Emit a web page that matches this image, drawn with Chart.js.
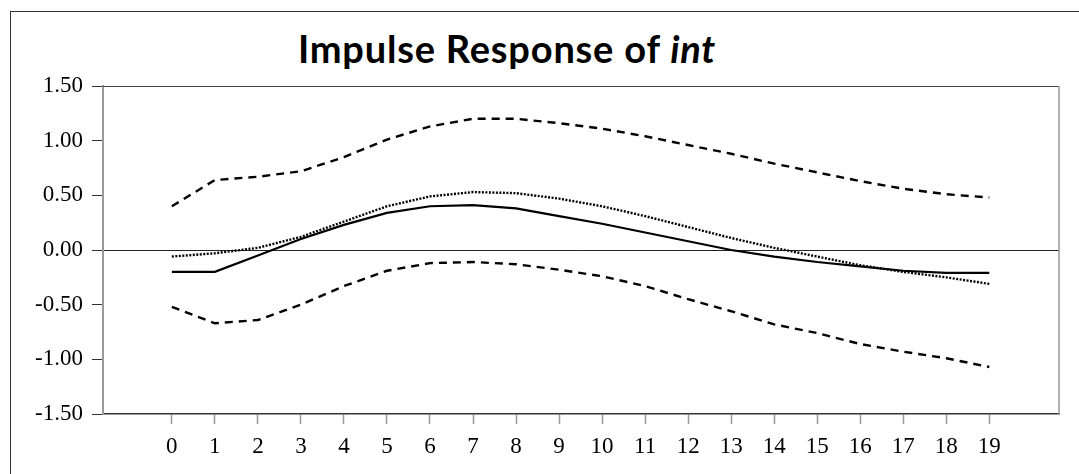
<!DOCTYPE html>
<html>
<head>
<meta charset="utf-8">
<script src="https://cdn.jsdelivr.net/npm/chart.js@4/dist/chart.umd.min.js"></script>
<style>
  html, body { margin: 0; padding: 0; background: #fff; }
  #wrap { position: relative; width: 1079px; height: 474px; overflow: hidden; }
  #frame { position: absolute; left: 10px; top: 11px; width: 1200px; height: 600px; border: 1px solid #333; box-sizing: border-box; }
  #title { position: absolute; left: 0; width: 1014px; top: 30px; text-align: center; font: bold 38px Lato, sans-serif; letter-spacing: 0.8px; line-height: 36px; color: #000; }
  canvas { position: absolute; left: 0; top: 0; }
</style>
</head>
<body>
<div id="wrap">
  <div id="frame"></div>
  <div id="title">Impulse Response of <i>int</i></div>
  <canvas id="irf" width="1079" height="474"></canvas>
</div>
<script>
// horizon periods
const horizons = [0,1,2,3,4,5,6,7,8,9,10,11,12,13,14,15,16,17,18,19];
// point estimate (solid)
const response = [-0.20,-0.20,-0.05,0.10,0.23,0.34,0.40,0.41,0.38,0.31,0.24,0.16,0.08,0.00,-0.06,-0.11,-0.15,-0.19,-0.21,-0.21];
// dotted line
const responseAlt = [-0.06,-0.03,0.02,0.12,0.26,0.40,0.49,0.53,0.52,0.47,0.40,0.31,0.21,0.11,0.02,-0.06,-0.14,-0.20,-0.25,-0.31];
// confidence bands (dashed)
const upperBand = [0.40,0.64,0.67,0.72,0.85,1.01,1.13,1.20,1.20,1.16,1.11,1.04,0.96,0.88,0.79,0.71,0.63,0.56,0.51,0.48];
const lowerBand = [-0.52,-0.67,-0.64,-0.50,-0.33,-0.19,-0.12,-0.11,-0.13,-0.18,-0.24,-0.33,-0.45,-0.56,-0.68,-0.76,-0.86,-0.93,-0.99,-1.07];
const yTicks = [-1.5,-1.0,-0.5,0.0,0.5,1.0,1.5];

const pts = arr => arr.map((v, i) => ({ x: horizons[i], y: v }));

const frameLines = {
    id: 'frameLines',
    afterDatasetsDraw(chart) {
        const a = chart.chartArea;
        const c = chart.ctx;
        c.save();
        c.strokeStyle = '#444';
        c.lineWidth = 1.2;
        c.beginPath();
        c.moveTo(a.left, a.top + 0.5);
        c.lineTo(a.right, a.top + 0.5);
        c.stroke();
        c.strokeStyle = '#999';
        c.lineWidth = 1.5;
        c.beginPath();
        c.moveTo(a.right, a.top);
        c.lineTo(a.right, a.bottom);
        c.stroke();
        c.restore();
    }
};

const lineStyle = (data, dash, width) => ({
    data: pts(data),
    borderColor: '#000',
    borderWidth: width,
    borderDash: dash,
    pointRadius: 0,
    tension: 0,
    fill: false
});

const tickFont = { family: '"Liberation Serif", "Times New Roman", serif', size: 23 };

new Chart(document.getElementById('irf'), {
    type: 'line',
    data: {
        datasets: [
            lineStyle(upperBand, [8, 6], 2.4),
            lineStyle(lowerBand, [8, 6], 2.4),
            lineStyle(responseAlt, [2, 1.5], 2.4),
            lineStyle(response, [], 2.2)
        ]
    },
    options: {
        responsive: false,
        animation: false,
        layout: { padding: { left: 0, right: 20, top: 86, bottom: 0 } },
        plugins: { legend: { display: false }, tooltip: { enabled: false } },
        scales: {
            x: {
                type: 'linear',
                min: -1.6,
                max: 20.62,
                afterBuildTicks: s => { s.ticks = horizons.map(v => ({ value: v })); },
                afterFit: s => { s.height = 60; },
                grid: { drawOnChartArea: false, drawTicks: true, tickLength: 10, tickColor: '#999', tickWidth: 1.5 },
                border: { color: '#333', width: 1.5 },
                ticks: {
                    autoSkip: false,
                    maxRotation: 0,
                    padding: 9,
                    color: '#000',
                    font: tickFont,
                    callback: v => String(v)
                }
            },
            y: {
                min: -1.5,
                max: 1.5,
                afterBuildTicks: s => { s.ticks = yTicks.map(v => ({ value: v })); },
                afterFit: s => { s.width = 103; },
                grid: {
                    drawOnChartArea: true,
                    color: c => (c.tick && c.tick.value === 0 ? '#222' : 'rgba(0,0,0,0)'),
                    lineWidth: 1,
                    tickLength: 11,
                    tickColor: '#333',
                    tickWidth: 1
                },
                border: { color: '#999', width: 2 },
                ticks: {
                    padding: 9,
                    color: '#000',
                    font: tickFont,
                    callback: v => v.toFixed(2)
                }
            }
        }
    },
    plugins: [frameLines]
});
</script>
</body>
</html>
